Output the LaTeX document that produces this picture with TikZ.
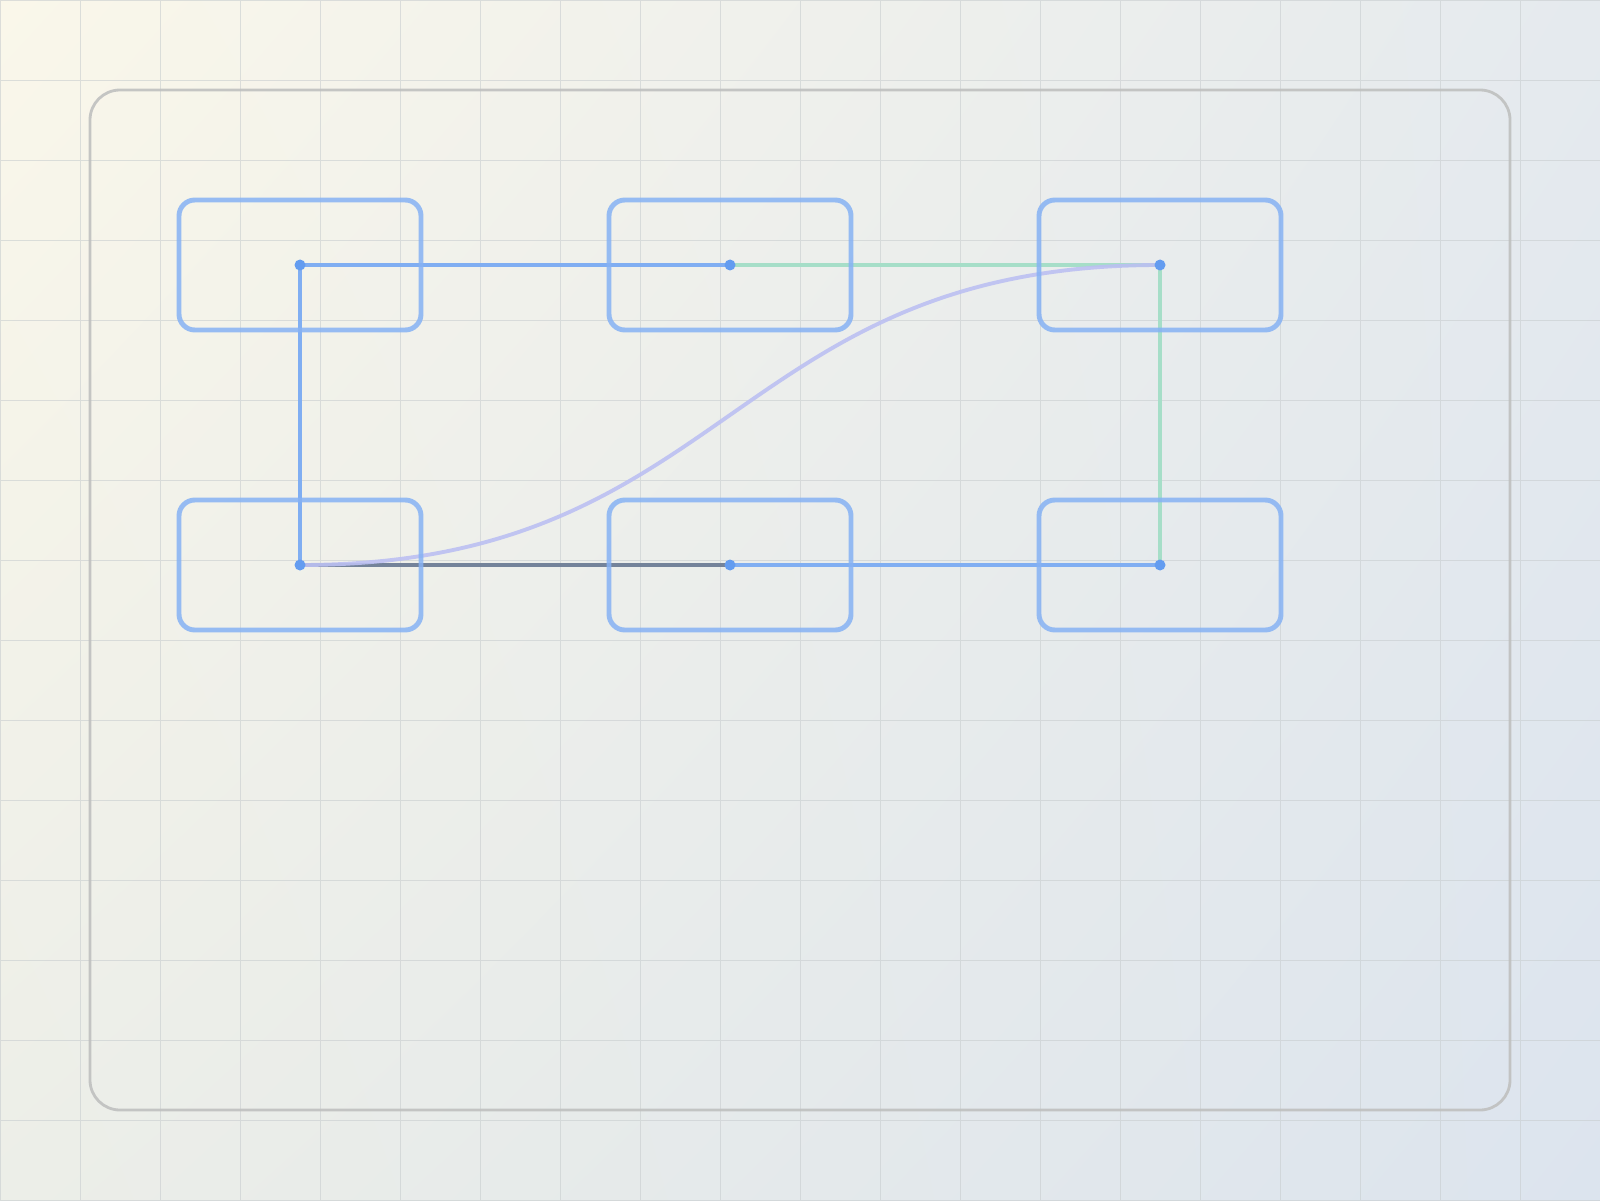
\documentclass[tikz,border=0pt]{standalone}
\usepackage{xcolor}
\usepackage{tikz}
\usetikzlibrary{positioning,%
  calc,%
  shadings%
}
\definecolor{bgcream}{HTML}{FAF7EA}
\definecolor{bgtopright}{HTML}{E5EAEE}
\definecolor{bgbotleft}{HTML}{ECEEE8}
\definecolor{bgblue}{HTML}{DCE4EE}
\definecolor{gridgray}{HTML}{C8CDCF}
\definecolor{framegray}{HTML}{BFC0BF}
\definecolor{boxblue}{HTML}{86B2F4}
\definecolor{lineblue}{HTML}{80AEF2}
\definecolor{linegreen}{HTML}{A6DEC8}
\definecolor{lineslate}{HTML}{74839A}
\definecolor{linelav}{HTML}{BCC0F2}
\definecolor{dotblue}{HTML}{639CF0}
\tikzset{box/.style={draw=boxblue, line width=1.4pt, rounded corners=4.5pt,%
    minimum width=2.42cm, minimum height=1.3cm, inner sep=0pt},
  dot/.style={circle, fill=dotblue, inner sep=0pt, minimum size=0.11cm},
  wire/.style={line width=1.1pt}}

\begin{document}
\begin{tikzpicture}
            \useasboundingbox (0,0) rectangle (16,12);
            \shade [upper left=bgcream, upper right=bgtopright, lower left=bgbotleft, lower right=bgblue] (0,0) rectangle (16,12);
            \draw [step=.8cm, line width=0.25pt, gridgray, opacity=.6] (0,0) grid (16,12);
            \draw [framegray, line width=0.8pt, opacity=.9, rounded corners=0.3cm] (0.9,0.9) rectangle (15.1,11.1);

            % centres of the six boxes
            \coordinate (tl) at (3,9.35);
            \coordinate (tm) at (7.3,9.35);
            \coordinate (tr) at (11.6,9.35);
            \coordinate (bl) at (3,6.35);
            \coordinate (bm) at (7.3,6.35);
            \coordinate (br) at (11.6,6.35);

            \draw [wire, lineblue] (tl) -- (tm);
            \draw [wire, lineblue] (tl) -- (bl);
            \draw [wire, linegreen] (tm) -- (tr);
            \draw [wire, linegreen] (tr) -- (br);
            \draw [wire, lineblue] (bm) -- (br);
            \draw [wire, lineslate] (bl) -- (bm);
            \draw [wire, linelav, opacity=.9] (bl) .. controls ($(bl)+(4.3,0)$) and ($(tr)-(4.3,0)$) .. (tr);

            \node [box, opacity=.85] (boxtl) at (tl) {};
            \node [box, opacity=.85] (boxtm) at (tm) {};
            \node [box, opacity=.85] (boxtr) at (tr) {};
            \node [box, opacity=.85] (boxbl) at (bl) {};
            \node [box, opacity=.85] (boxbm) at (bm) {};
            \node [box, opacity=.85] (boxbr) at (br) {};

            \foreach \c in {tl,tm,tr,bl,bm,br}
                \node [dot] (dot\c) at (\c) {};
        \end{tikzpicture}
\end{document}
